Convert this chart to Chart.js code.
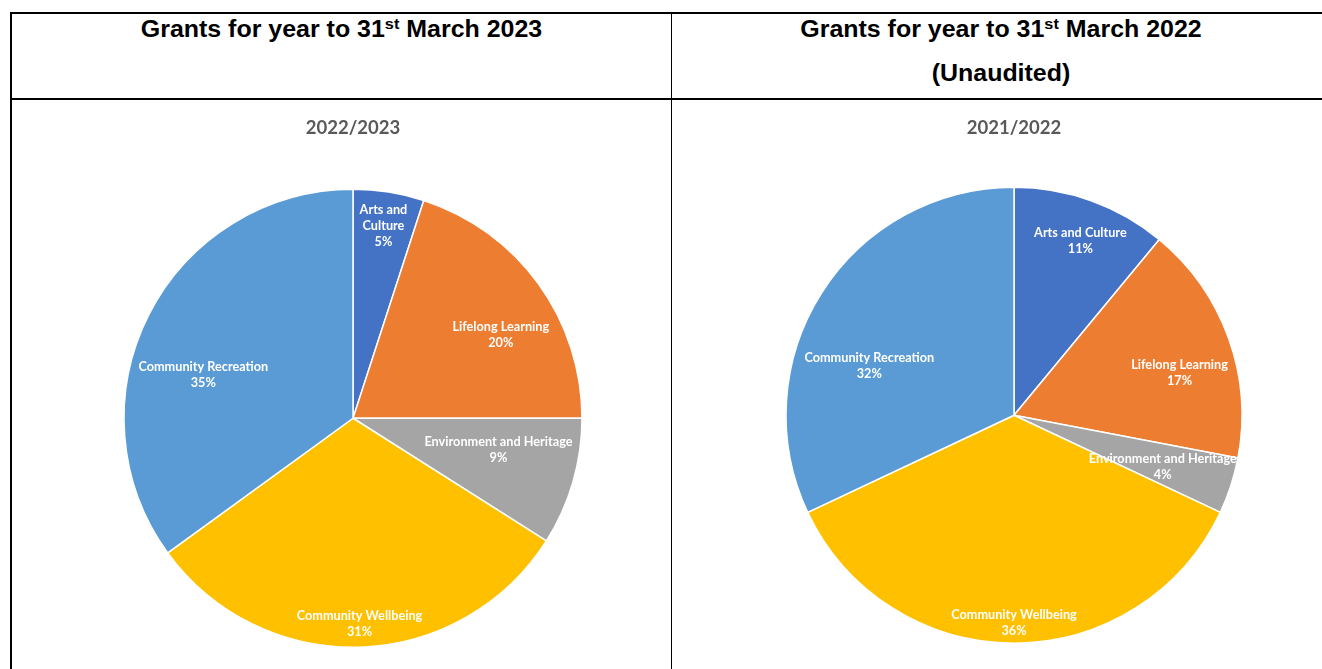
<!DOCTYPE html>
<html>
<head>
<meta charset="utf-8">
<script src="https://cdn.jsdelivr.net/npm/chart.js@4.4.0/dist/chart.umd.min.js"></script>
<style>
  html, body { margin: 0; padding: 0; background: #fff; }
  body { width: 1322px; height: 669px; overflow: hidden; position: relative; font-family: "Liberation Sans", Arial, sans-serif; }
  .rule { position: absolute; background: #000; }
  .head { position: absolute; top: 7px; font-weight: bold; font-size: 23px; line-height: 44px; text-align: center; color: #000; transform: scaleX(1.085); }
  .head sup { font-size: 15px; vertical-align: 8px; line-height: 0; }
  .box { position: absolute; top: 101px; width: 480px; height: 568px; }
</style>
</head>
<body>
<div class="rule" style="left:10px;top:12px;width:1312px;height:2px"></div>
<div class="rule" style="left:10px;top:98px;width:1312px;height:2px"></div>
<div class="rule" style="left:10px;top:12px;width:2px;height:657px"></div>
<div class="rule" style="left:671px;top:12px;width:1px;height:657px"></div>

<div class="head" style="left:12px;width:659px">Grants for year to 31<sup>st</sup> March 2023</div>
<div class="head" style="left:672px;width:658px">Grants for year to 31<sup>st</sup> March 2022<br>(Unaudited)</div>

<div class="box" style="left:113px"><canvas id="pie2023" width="480" height="568"></canvas></div>
<div class="box" style="left:774px"><canvas id="pie2022" width="480" height="568"></canvas></div>

<script>
// categories, in drawing order (clockwise from 12 o'clock)
const categories = ['Arts and Culture', 'Lifelong Learning', 'Environment and Heritage', 'Community Wellbeing', 'Community Recreation'];
// share of grants, %
const values2023 = [5, 20, 9, 31, 35];
const values2022 = [11, 17, 4, 36, 32];

const colors = ['#4472C4', '#ED7D31', '#A5A5A5', '#FFC000', '#5B9BD5'];

// white labels inside the slices, like excel's data labels
const sliceLabels = {
  id: 'sliceLabels',
  afterDatasetsDraw(chart, args, opts) {
    const ctx = chart.ctx;
    const meta = chart.getDatasetMeta(0);
    const data = chart.data.datasets[0].data;
    ctx.save();
    ctx.font = 'bold 12.7px Lato, "Open Sans", sans-serif';
    ctx.fillStyle = '#fff';
    ctx.textAlign = 'center';
    ctx.textBaseline = 'middle';
    meta.data.forEach((arc, i) => {
      const p = arc.getProps(['x', 'y', 'startAngle', 'endAngle', 'outerRadius'], true);
      const rf = opts.pos[i][0];
      const a = (p.startAngle + p.endAngle) / 2 + opts.pos[i][1] * Math.PI / 180;
      const cx = p.x + Math.cos(a) * p.outerRadius * rf;
      const cy = p.y + Math.sin(a) * p.outerRadius * rf;
      const lines = (opts.wrap[i] || [chart.data.labels[i]]).concat([data[i] + '%']);
      lines.forEach((t, k) => {
        ctx.fillText(t, cx, cy + (k - (lines.length - 1) / 2) * 16);
      });
    });
    ctx.restore();
  }
};

function makePie(id, title, values, titleGap, bottomPad, pos, wrap) {
  return new Chart(document.getElementById(id), {
    type: 'pie',
    data: {
      labels: categories,
      datasets: [{
        data: values,
        backgroundColor: colors,
        borderColor: '#fff',
        borderWidth: 1.5,
      }],
    },
    options: {
      responsive: false,
      animation: false,
      layout: { padding: { top: 0, bottom: bottomPad, left: 10, right: 10 } },
      plugins: {
        legend: { display: false },
        tooltip: { enabled: false },
        title: {
          display: true,
          text: title,
          color: '#595959',
          font: { family: 'Lato', size: 18.5, weight: 'bold' },
          padding: { top: 16, bottom: titleGap },
        },
        sliceLabels: { pos, wrap },
      },
    },
    plugins: [sliceLabels],
  });
}

// [radius fraction, angle nudge in degrees] for each label
makePie('pie2023', '2022/2023', values2023, 49.3, 21,
  [[0.85, 0], [0.74, 6.7], [0.65, -4], [0.9, 0], [0.68, -11]],
  [['Arts and', 'Culture']]);
makePie('pie2022', '2021/2022', values2022, 47.3, 25,
  [[0.82, 1], [0.75, 5.3], [0.69, 1], [0.91, 0], [0.67, -13.7]],
  []);
</script>
</body>
</html>
